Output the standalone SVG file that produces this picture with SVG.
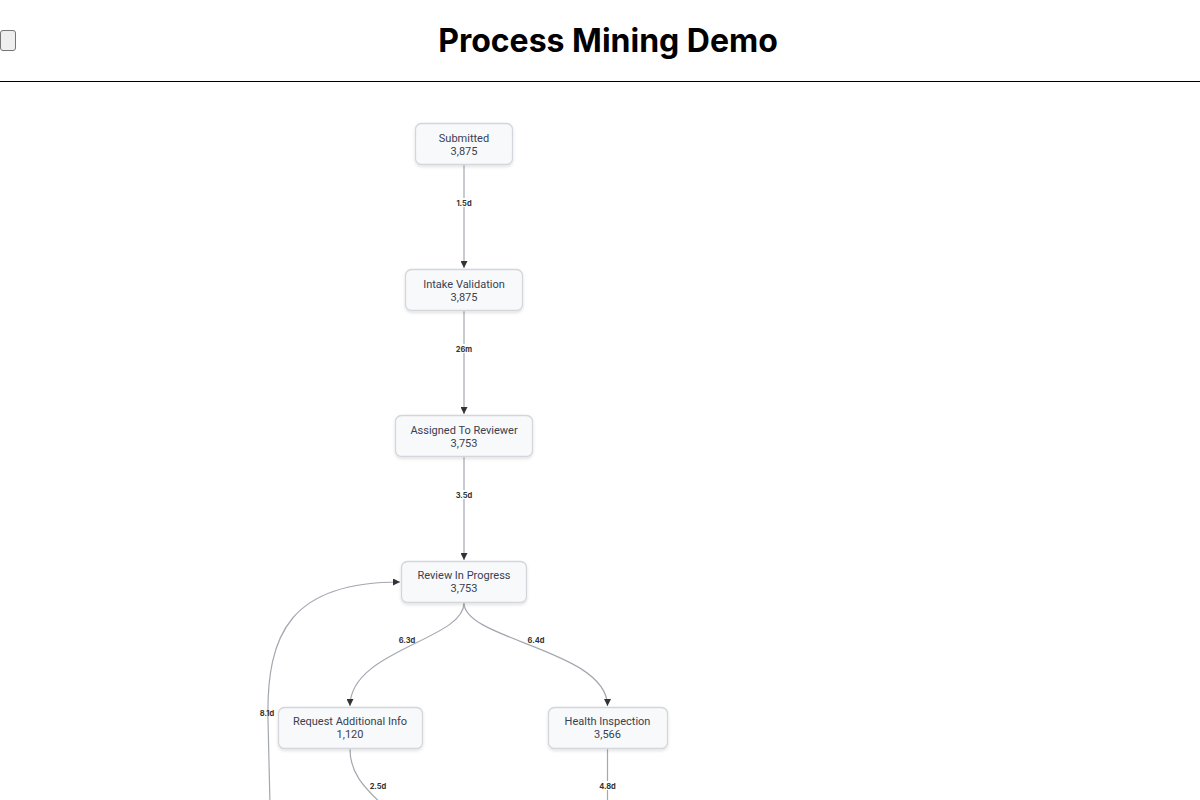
<svg xmlns="http://www.w3.org/2000/svg" width="1200" height="800" viewBox="0 0 1200 800">
<style>
.title{font-family:Inter,"Liberation Sans",sans-serif;font-weight:700;font-size:32px;fill:#000}
.node rect{fill:#f8f9fb;stroke:#d3d6db;stroke-width:1.3}
.node text{font-family:Roboto,"Liberation Sans",sans-serif;font-size:11px;fill:#374151;text-anchor:middle}
.edge{fill:none;stroke:#a3a7b0;stroke-width:1.2}
.lbl{font-family:Inter,"Liberation Sans",sans-serif;font-size:7.5px;font-weight:700;fill:#333;text-anchor:middle}
.lblbg{fill:#fff}
</style>
<defs>
<marker id="arr" viewBox="0 0 10 10" refX="10" refY="5" markerWidth="7" markerHeight="7" markerUnits="userSpaceOnUse" orient="auto">
<path d="M0,0 L10,5 L0,10 z" fill="#333"/>
</marker>
<filter id="sh" x="-20%" y="-30%" width="140%" height="170%">
<feDropShadow dx="0" dy="1.5" stdDeviation="1.5" flood-color="#000" flood-opacity="0.13"/>
</filter>
</defs>
<rect width="1200" height="800" fill="#fff"/>
<g id="header">
<rect x="0.5" y="30.5" width="15" height="20" rx="2.5" fill="#efefef" stroke="#767676"/>
<text class="title" x="608" y="52" text-anchor="middle">Process Mining Demo</text>
<line x1="0" y1="81.5" x2="1200" y2="81.5" stroke="#000" stroke-width="1"/>
</g>
<g id="connectors">
<path class="edge" d="M464,165 L464,268" marker-end="url(#arr)"/>
<path class="edge" d="M464,311 L464,414" marker-end="url(#arr)"/>
<path class="edge" d="M464,457 L464,560" marker-end="url(#arr)"/>
<path class="edge" d="M464,603 C464,640 350,650 350,706" marker-end="url(#arr)"/>
<path class="edge" d="M464,603 C464,640 607.5,650 607.5,706" marker-end="url(#arr)"/>
<path class="edge" d="M350,749 C350,772 362,786 386,808"/>
<path class="edge" d="M607.5,749 L607.5,800"/>
<path class="edge" d="M270,805 L268,720 C266,632 292,582 400,582" marker-end="url(#arr)"/>
<rect class="lblbg" x="454" y="198" width="20" height="9"/>
<text class="lbl" x="464" y="206">1.5d</text>
<rect class="lblbg" x="454" y="344" width="20" height="9"/>
<text class="lbl" x="464" y="352">26m</text>
<rect class="lblbg" x="454" y="490" width="20" height="9"/>
<text class="lbl" x="464" y="498">3.5d</text>
<text class="lbl" x="407" y="643">6.3d</text>
<text class="lbl" x="536" y="643">6.4d</text>
<text class="lbl" x="267" y="716">8.1d</text>
<text class="lbl" x="378" y="789">2.5d</text>
<rect class="lblbg" x="597" y="781" width="20" height="9"/>
<text class="lbl" x="607.5" y="789">4.8d</text>
</g>
<g id="n-submitted" class="node"><rect x="415.5" y="123.5" width="97" height="41" rx="6" filter="url(#sh)"/><text x="464" y="142">Submitted</text><text x="464" y="155">3,875</text></g>
<g id="n-intake" class="node"><rect x="405.5" y="269.5" width="117" height="41" rx="6" filter="url(#sh)"/><text x="464" y="288">Intake Validation</text><text x="464" y="301">3,875</text></g>
<g id="n-assigned" class="node"><rect x="395.5" y="415.5" width="137" height="41" rx="6" filter="url(#sh)"/><text x="464" y="434">Assigned To Reviewer</text><text x="464" y="447">3,753</text></g>
<g id="n-review" class="node"><rect x="401.5" y="561.5" width="125" height="41" rx="6" filter="url(#sh)"/><text x="464" y="579">Review In Progress</text><text x="464" y="592">3,753</text></g>
<g id="n-request" class="node"><rect x="278.5" y="707.5" width="144" height="41" rx="6" filter="url(#sh)"/><text x="350" y="725">Request Additional Info</text><text x="350" y="738">1,120</text></g>
<g id="n-health" class="node"><rect x="548.5" y="707.5" width="119" height="41" rx="6" filter="url(#sh)"/><text x="607.5" y="725">Health Inspection</text><text x="607.5" y="738">3,566</text></g>
</svg>
